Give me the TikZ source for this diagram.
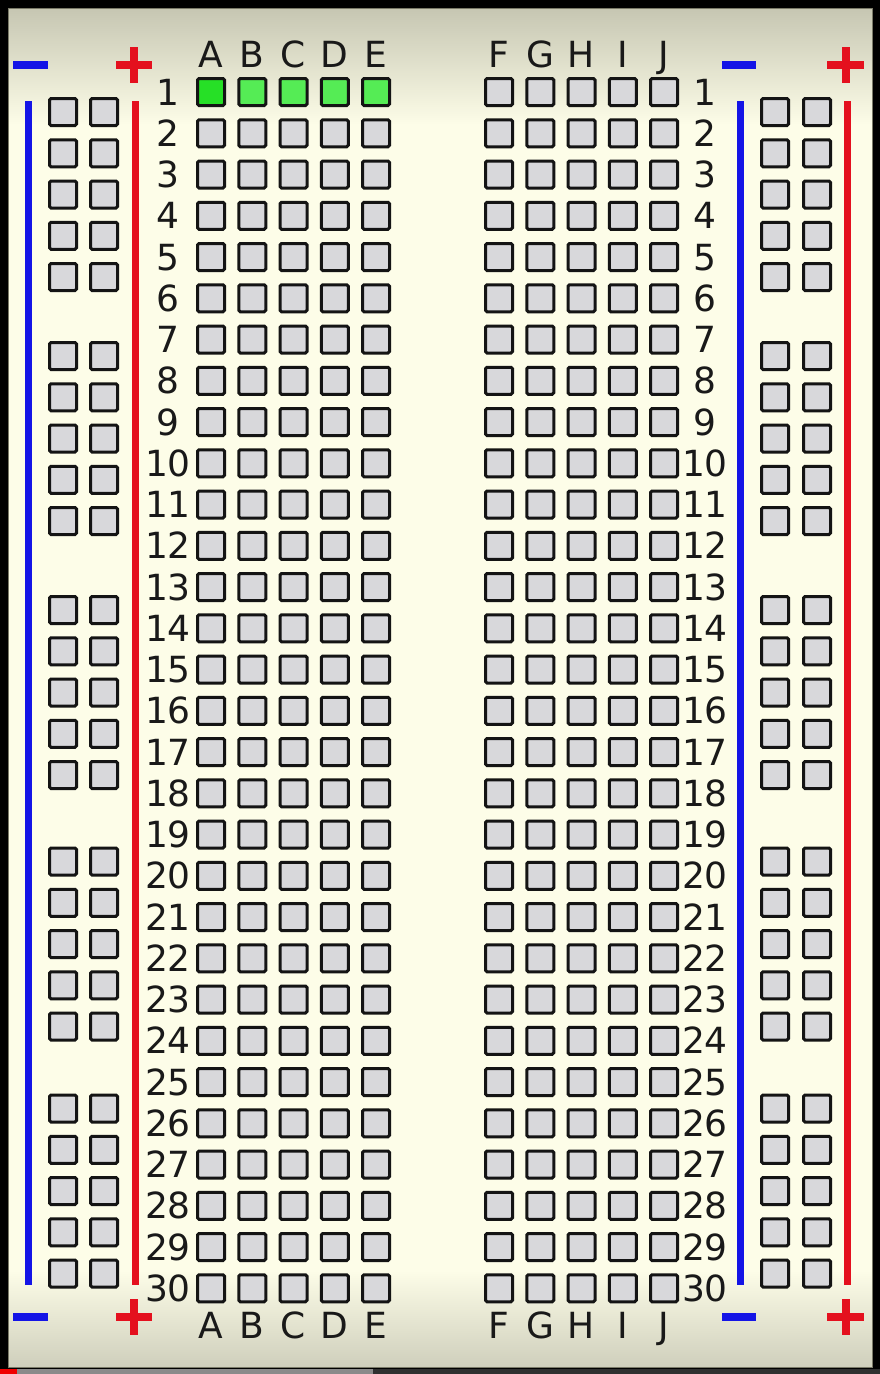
\documentclass[tikz,border=0pt]{standalone}
\usepackage{fontspec}
\setmainfont{DejaVu Sans}
\definecolor{cream}{HTML}{FDFDE8}
\definecolor{topbeige}{HTML}{C6C6B2}
\definecolor{botbeige}{HTML}{CFCFBC}
\definecolor{boardedge}{HTML}{7A7A68}
\definecolor{holegray}{HTML}{D8D8DB}
\definecolor{greenA}{HTML}{26E026}
\definecolor{greenB}{HTML}{55EC55}
\definecolor{railblue}{HTML}{1414E6}
\definecolor{railred}{HTML}{E4101E}
\definecolor{barred}{HTML}{F00000}
\definecolor{bargray}{HTML}{8A8A8A}
\definecolor{bardark}{HTML}{303030}
\begin{document}
\begin{tikzpicture}[x=1pt,y=-1pt,
  hole/.style={draw=black!92, line width=3pt, fill=holegray, minimum size=27pt, inner sep=0pt, rounded corners=1.5pt},
  lbl/.style={font=\fontsize{36}{36}\selectfont, anchor=base, inner sep=0pt, text=black!90},
  railline/.style={line width=7pt, line cap=butt},
  signbar/.style={line width=8pt, line cap=butt}]
\useasboundingbox (0,0) rectangle (880,1374);
% frame and board
\fill[black] (0,0) rectangle (880,1374);
\fill[cream] (8,8) rectangle (872,1367);
\shade[top color=topbeige, bottom color=cream] (8,8) rectangle (872,125);
\shade[top color=cream, bottom color=botbeige] (8,1270) rectangle (872,1367);
\draw[boardedge, line width=1pt] (8,8) rectangle (872,1367);
% progress bar
\fill[barred] (0,1369) rectangle (17,1374);
\fill[bargray] (17,1369) rectangle (373,1374);
\fill[bardark] (373,1369) rectangle (880,1374);
% rail lines
\coordinate (lbT) at (28.5,101);  \coordinate (lbB) at (28.5,1285);
\coordinate (lrT) at (135.5,101); \coordinate (lrB) at (135.5,1285);
\coordinate (rbT) at (740.5,101); \coordinate (rbB) at (740.5,1285);
\coordinate (rrT) at (847,101);   \coordinate (rrB) at (847,1285);
\draw[railline, railblue] (lbT) -- (lbB);
\draw[railline, railred] (lrT) -- (lrB);
\draw[railline, railblue] (rbT) -- (rbB);
\draw[railline, railred] (rrT) -- (rrB);
% signs
\foreach \yy/\nm in {65/t,1317/b}{
  \draw[signbar, railblue] (13,\yy) -- (48,\yy);
  \draw[signbar, railred] (116,\yy) -- (152,\yy);
  \draw[signbar, railred] (134,\yy-18) -- (134,\yy+18);
  \draw[signbar, railblue] (722,\yy) -- (756,\yy);
  \draw[signbar, railred] (827,\yy) -- (864,\yy);
  \draw[signbar, railred] (845.5,\yy-18) -- (845.5,\yy+18);
}
% rail holes
\foreach \g/\ys in {1/112,2/356,3/610,4/861.5,5/1108.5}{
  \foreach \k in {0,...,4}{
    \node[hole] (rl\g\k a) at (63,\ys+\k*41.25) {};
    \node[hole] (rl\g\k b) at (104,\ys+\k*41.25) {};
    \node[hole] (rr\g\k a) at (775,\ys+\k*41.25) {};
    \node[hole] (rr\g\k b) at (817,\ys+\k*41.25) {};
  }
}
% column labels
\foreach \c [count=\i from 0] in {A,B,C,D,E}{
  \node[lbl] (ct\c) at (211+\i*41.25,67) {\c};
  \node[lbl] (cb\c) at (211+\i*41.25,1338) {\c};
}
\foreach \c [count=\i from 0] in {F,G,H,I,J}{
  \node[lbl] (ct\c) at (499+\i*41.25,67) {\c};
  \node[lbl] (cb\c) at (499+\i*41.25,1338) {\c};
}
% main holes and row numbers
\foreach \r in {1,...,30}{
  \pgfmathsetmacro\yy{92+(\r-1)*41.25}
  \node[lbl] (nl\r) at (168,\yy+13) {\r};
  \node[lbl] (nr\r) at (705,\yy+13) {\r};
  \foreach \c [count=\i from 0] in {A,B,C,D,E}{
    \ifnum\r=1 \ifnum\i=0 \def\hf{greenA}\else\def\hf{greenB}\fi\else\def\hf{holegray}\fi
    \node[hole, fill=\hf] (h\c\r) at (211+\i*41.25,\yy) {};
  }
  \foreach \c [count=\i from 0] in {F,G,H,I,J}{
    \node[hole] (h\c\r) at (499+\i*41.25,\yy) {};
  }
}
\end{tikzpicture}
\end{document}
